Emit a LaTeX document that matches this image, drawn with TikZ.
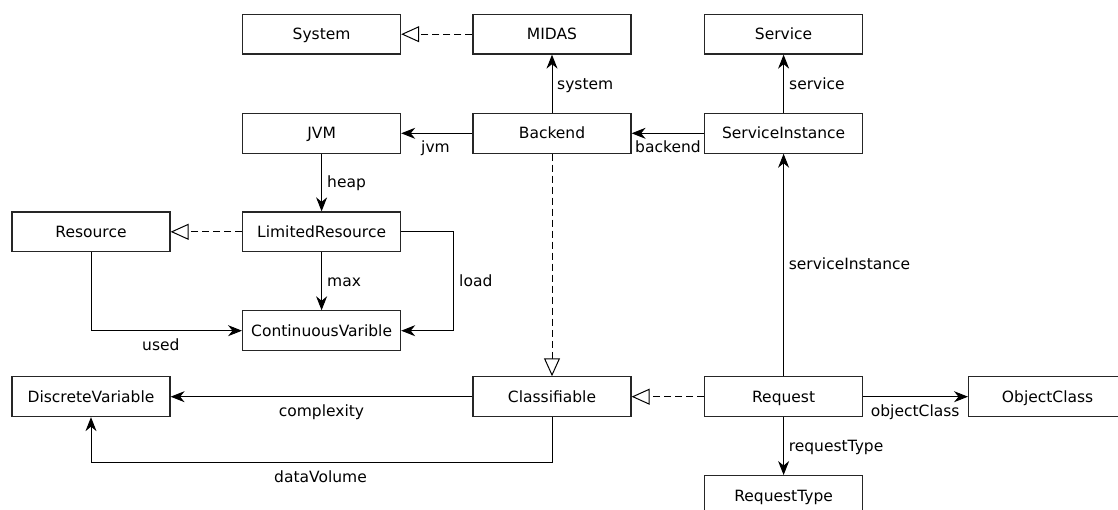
\documentclass[tikz,border=0pt]{standalone}
\usepackage{fontspec}
\setmainfont{DejaVu Sans}
\usetikzlibrary{arrows.meta}
\begin{document}
\begin{tikzpicture}[x=1pt,y=-1pt,
  every node/.style={font=\fontsize{15.5}{18}\selectfont},
  box/.style={draw=black!85, line width=1.2pt, fill=white, minimum width=158pt, minimum height=39.7pt, inner sep=0pt, text height=11.3pt, text depth=0pt},
  assoc/.style={line width=1pt, -{Stealth[length=14pt,width=11pt,inset=4.5pt]}},
  real/.style={line width=1pt, dash pattern=on 7pt off 4pt, -{Triangle[open,length=18pt,width=16pt,fill=white]}},
  lbl/.style={anchor=base west, inner sep=0pt}]
\clip (0,0) rectangle (1118,510);
\fill[white] (0,0) rectangle (1118,510);
% nodes
\node[box] (System) at (321.6,34.2) {System};
\node[box] (MIDAS) at (552,34.2) {MIDAS};
\node[box] (Service) at (783.6,34.2) {Service};
\node[box] (JVM) at (321.6,133.3) {JVM};
\node[box] (Backend) at (552,133.3) {Backend};
\node[box] (SI) at (783.6,133.3) {ServiceInstance};
\node[box] (Resource) at (91,231.8) {Resource};
\node[box] (LR) at (321.6,231.8) {LimitedResource};
\node[box] (CV) at (321.6,330.7) {ContinuousVarible};
\node[box] (DV) at (91,396.7) {DiscreteVariable};
\node[box] (Cl) at (552,396.7) {Classifiable};
\node[box] (Req) at (783.6,396.7) {Request};
\node[box] (OC) at (1047.6,396.7) {ObjectClass};
\node[box] (RT) at (783.6,495.5) {RequestType};
\coordinate (loadc) at (453.6,330.7);
\coordinate (dvc) at (552,462.3);
% connectors
\draw[real] (MIDAS.west) -- (System.east);
\draw[assoc] (Backend.north) -- (MIDAS.south);
\draw[assoc] (Backend.west) -- (JVM.east);
\draw[assoc] (SI.west) -- (Backend.east);
\draw[assoc] (SI.north) -- (Service.south);
\draw[assoc] (JVM.south) -- (LR.north);
\draw[real] (LR.west) -- (Resource.east);
\draw[assoc] (LR.south) -- (CV.north);
\draw[assoc] (LR.east) -| (loadc) -- (CV.east);
\draw[assoc] (Resource.south) |- (CV.west);
\draw[real] (Backend.south) -- (Cl.north);
\draw[assoc] (Cl.west) -- (DV.east);
\draw[assoc] (Cl.south) -- (dvc) -| (DV.south);
\draw[real] (Req.west) -- (Cl.east);
\draw[assoc] (Req.north) -- (SI.south);
\draw[assoc] (Req.east) -- (OC.west);
\draw[assoc] (Req.south) -- (RT.north);
% labels
\node[lbl] (l1) at (557,89.5) {system};
\node[lbl] (l2) at (789,89.5) {service};
\node[lbl] (l3) at (421,153) {jvm};
\node[lbl] (l4) at (635,153) {backend};
\node[lbl] (l5) at (327,188) {heap};
\node[lbl] (l6) at (327,287) {max};
\node[lbl] (l7) at (459,287) {load};
\node[lbl] (l8) at (142,350.5) {used};
\node[lbl] (l9) at (278.6,416.5) {complexity};
\node[lbl] (l10) at (274,482.5) {dataVolume};
\node[lbl] (l11) at (788.6,270) {serviceInstance};
\node[lbl] (l12) at (870.7,416.5) {objectClass};
\node[lbl] (l13) at (788.6,451.5) {requestType};
\end{tikzpicture}
\end{document}
